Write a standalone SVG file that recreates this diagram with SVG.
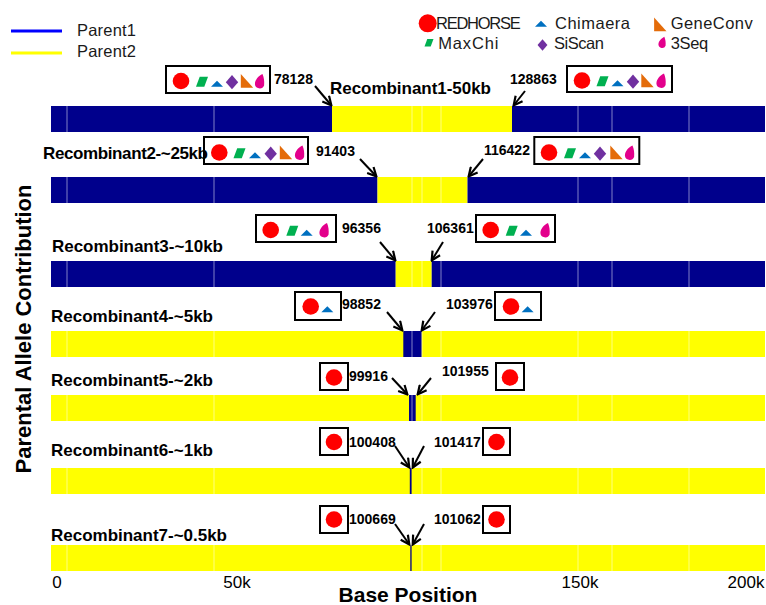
<svg xmlns="http://www.w3.org/2000/svg" width="766" height="605" viewBox="0 0 766 605">
<style>
  .lbl{font-family:"Liberation Sans",Arial,sans-serif;font-weight:bold;font-size:17px;fill:#000}
  .num{font-family:"Liberation Sans",Arial,sans-serif;font-weight:bold;font-size:14px;fill:#000}
  .leg{font-family:"Liberation Sans",Arial,sans-serif;font-size:16.5px;fill:#1a1a1a}
  .tick{font-family:"Liberation Sans",Arial,sans-serif;font-size:17px;fill:#000;text-anchor:middle}
  .axis{font-family:"Liberation Sans",Arial,sans-serif;font-weight:bold;font-size:21px;fill:#000;text-anchor:middle}
  .p1{fill:#00008C}
  .p2{fill:#FFFF00}
  .grid{stroke:#FFFFFF;stroke-opacity:0.5;stroke-width:1;fill:none}
  .box{fill:none;stroke:#000;stroke-width:2}
  .arr{stroke:#000;stroke-width:2;fill:none;marker-end:url(#ah)}
</style>
<defs>
  <marker id="ah" viewBox="0 0 10 10" refX="8.5" refY="5" markerWidth="11" markerHeight="11" markerUnits="userSpaceOnUse" orient="auto">
    <path d="M1,1 L9,5 L1,9" fill="none" stroke="#000" stroke-width="2"/>
  </marker>
  <circle id="sc" r="8.3" fill="#FF0000"/>
  <polygon id="sm" points="-6,5.7 2.3,5.7 6,-4.3 -2.3,-4.3" fill="#00B050"/>
  <polygon id="st" points="-6,5.7 6,5.7 0,-0.3" fill="#0070C0"/>
  <polygon id="sd" points="0,-6 6.2,1.2 0,8.3 -6.2,1.2" fill="#7030A0"/>
  <polygon id="sg" points="-6.2,-7 -6.2,6.7 6.2,6.7" fill="#E46C0A"/>
  <path id="sq" d="M3,-7 C4.5,-3 5,0 4.6,4.5 A4.8,4.8 0 0 1 -4.6,3 C-4.4,-1.5 -1,-5 3,-7 Z" fill="#E3008C"/>
</defs>
<rect width="766" height="605" fill="#FFFFFF"/>

<g id="legend-parents">
  <line x1="11" y1="31" x2="62" y2="31" stroke="#0000FF" stroke-width="3"/>
  <line x1="11" y1="53" x2="62" y2="53" stroke="#FFFF00" stroke-width="3"/>
  <text class="leg" x="77" y="36" textLength="59">Parent1</text>
  <text class="leg" x="77" y="57" textLength="59">Parent2</text>
</g>

<g id="legend-methods">
  <circle cx="427.7" cy="23.3" r="9" fill="#FF0000"/>
  <text class="leg" x="436" y="29.3" textLength="84.7">REDHORSE</text>
  <use href="#st" x="541" y="21"/>
  <text class="leg" x="555" y="29.3" textLength="75">Chimaera</text>
  <use href="#sg" x="660.3" y="24.5"/>
  <text class="leg" x="670.7" y="29.3" textLength="82">GeneConv</text>
  <use href="#sm" transform="translate(429,42.2) scale(0.75)"/>
  <text class="leg" x="438.3" y="49.3" textLength="60">MaxChi</text>
  <use href="#sd" transform="translate(542.5,44) scale(0.8)"/>
  <text class="leg" x="554" y="49.3" textLength="50">SiScan</text>
  <use href="#sq" transform="translate(662,42.2) scale(0.78)"/>
  <text class="leg" x="670.7" y="49.3" textLength="37.6">3Seq</text>
</g>

<g id="recombinant1">
  <rect class="p1" x="51" y="106" width="281" height="26"/>
  <rect class="p2" x="332" y="106" width="180" height="26"/>
  <rect class="p1" x="512" y="106" width="253" height="26"/>
  <path class="grid" d="M67,106V132M214,106V132M412,106V132M422,106V132M441,106V132M578,106V132M612,106V132M689,106V132"/>
  <text class="lbl" x="330" y="94" textLength="161">Recombinant1-50kb</text>
  <rect class="box" x="166" y="66" width="104" height="27"/>
  <use href="#sc" x="181" y="81"/><use href="#sm" x="202" y="81"/><use href="#st" x="217" y="81"/><use href="#sd" x="232" y="81"/><use href="#sg" x="247" y="81"/><use href="#sq" x="259.5" y="81"/>
  <rect class="box" x="567" y="66" width="105" height="26"/>
  <use href="#sc" x="582" y="80.5"/><use href="#sm" x="602.5" y="80.5"/><use href="#st" x="617.5" y="80.5"/><use href="#sd" x="633" y="80.5"/><use href="#sg" x="647.5" y="80.5"/><use href="#sq" x="661" y="80.5"/>
  <text class="num" x="274" y="84">78128</text>
  <text class="num" x="510" y="84">128863</text>
</g>

<g id="recombinant2">
  <rect class="p1" x="51" y="177" width="326.5" height="26"/>
  <rect class="p2" x="377.5" y="177" width="90" height="26"/>
  <rect class="p1" x="467.5" y="177" width="297.5" height="26"/>
  <path class="grid" d="M67,177V203M214,177V203M412,177V203M422,177V203M441,177V203M578,177V203M612,177V203M689,177V203"/>
  <text class="lbl" x="43" y="159" textLength="165">Recombinant2-~25kb</text>
  <rect class="box" x="204" y="137" width="104" height="27"/>
  <use href="#sc" x="219.3" y="152.5"/><use href="#sm" x="239.5" y="152.5"/><use href="#st" x="255" y="152.5"/><use href="#sd" x="270.7" y="152.5"/><use href="#sg" x="286" y="152.5"/><use href="#sq" x="299.5" y="152.5"/>
  <rect class="box" x="534.3" y="137" width="105" height="27"/>
  <use href="#sc" x="549" y="152.5"/><use href="#sm" x="570" y="152.5"/><use href="#st" x="585" y="152.5"/><use href="#sd" x="600" y="152.5"/><use href="#sg" x="616.5" y="152.5"/><use href="#sq" x="629.5" y="152.5"/>
  <text class="num" x="316" y="156">91403</text>
  <text class="num" x="484" y="155">116422</text>
</g>

<g id="recombinant3">
  <rect class="p1" x="51" y="261" width="344.7" height="26"/>
  <rect class="p2" x="395.7" y="261" width="36" height="26"/>
  <rect class="p1" x="431.7" y="261" width="333.3" height="26"/>
  <path class="grid" d="M67,261V287M214,261V287M412,261V287M422,261V287M441,261V287M578,261V287M612,261V287M689,261V287"/>
  <text class="lbl" x="52" y="252" textLength="171">Recombinant3-~10kb</text>
  <rect class="box" x="256" y="215" width="80" height="27"/>
  <use href="#sc" x="270.7" y="230"/><use href="#sm" x="292.3" y="230"/><use href="#st" x="306.7" y="230"/><use href="#sq" x="324" y="230"/>
  <rect class="box" x="476" y="215" width="79" height="27"/>
  <use href="#sc" x="490.7" y="230"/><use href="#sm" x="511.7" y="230"/><use href="#st" x="526" y="230"/><use href="#sq" x="545" y="230"/>
  <text class="num" x="342" y="233">96356</text>
  <text class="num" x="427" y="233">106361</text>
</g>

<g id="recombinant4">
  <rect class="p2" x="51" y="331" width="714" height="26"/>
  <rect class="p1" x="403.3" y="331" width="18.4" height="26"/>
  <path class="grid" d="M67,331V357M214,331V357M412,331V357M422,331V357M441,331V357M578,331V357M612,331V357M689,331V357"/>
  <text class="lbl" x="51" y="322" textLength="162">Recombinant4-~5kb</text>
  <rect class="box" x="295" y="292" width="46" height="28"/>
  <use href="#sc" x="310.7" y="306.5"/><use href="#st" x="327.3" y="306.5"/>
  <rect class="box" x="495" y="292" width="46" height="28"/>
  <use href="#sc" x="511" y="306.5"/><use href="#st" x="527.6" y="306.5"/>
  <text class="num" x="342" y="309">98852</text>
  <text class="num" x="446" y="309">103976</text>
</g>

<g id="recombinant5">
  <rect class="p2" x="51" y="395" width="714" height="26"/>
  <rect class="p1" x="409" y="395" width="6.7" height="26"/>
  <path class="grid" d="M67,395V421M214,395V421M412,395V421M422,395V421M441,395V421M578,395V421M612,395V421M689,395V421"/>
  <text class="lbl" x="51" y="386" textLength="162">Recombinant5-~2kb</text>
  <rect class="box" x="320" y="363" width="28" height="27"/>
  <use href="#sc" x="334" y="377.5"/>
  <rect class="box" x="496" y="363" width="28" height="27"/>
  <use href="#sc" x="510" y="377.5"/>
  <text class="num" x="349" y="381">99916</text>
  <text class="num" x="442" y="376">101955</text>
</g>

<g id="recombinant6">
  <rect class="p2" x="51" y="468" width="714" height="26"/>
  <path class="grid" d="M67,468V494M214,468V494M422,468V494M441,468V494M578,468V494M612,468V494M689,468V494"/>
  <rect class="p1" x="409.8" y="468" width="1.8" height="26"/>
  <text class="lbl" x="51" y="456" textLength="162">Recombinant6-~1kb</text>
  <rect class="box" x="320" y="428" width="28" height="27"/>
  <use href="#sc" x="334" y="442"/>
  <rect class="box" x="483" y="428" width="27" height="27"/>
  <use href="#sc" x="496.5" y="442"/>
  <text class="num" x="349" y="447">100408</text>
  <text class="num" x="434" y="447">101417</text>
</g>

<g id="recombinant7">
  <rect class="p2" x="51" y="545" width="714" height="26"/>
  <path class="grid" d="M67,545V571M214,545V571M422,545V571M441,545V571M578,545V571M612,545V571M689,545V571"/>
  <rect class="p1" x="410.3" y="545" width="1.3" height="26"/>
  <text class="lbl" x="51" y="541" textLength="176">Recombinant7-~0.5kb</text>
  <rect class="box" x="320" y="506" width="28" height="27"/>
  <use href="#sc" x="334" y="519.5"/>
  <rect class="box" x="483" y="506" width="27" height="27"/>
  <use href="#sc" x="496.5" y="519.5"/>
  <text class="num" x="349" y="524">100669</text>
  <text class="num" x="434" y="524">101062</text>
</g>

<g id="connectors">
  <line class="arr" x1="315" y1="86" x2="331" y2="105"/>
  <line class="arr" x1="525" y1="91" x2="514" y2="105"/>
  <line class="arr" x1="360" y1="159" x2="376" y2="176"/>
  <line class="arr" x1="483" y1="159" x2="469" y2="176"/>
  <line class="arr" x1="380" y1="242" x2="395" y2="260"/>
  <line class="arr" x1="443" y1="242" x2="432" y2="260"/>
  <line class="arr" x1="387" y1="312" x2="402" y2="330"/>
  <line class="arr" x1="435" y1="312" x2="422" y2="330"/>
  <line class="arr" x1="392" y1="378" x2="407" y2="394"/>
  <line class="arr" x1="431" y1="378" x2="418" y2="394"/>
  <line class="arr" x1="395" y1="446" x2="409" y2="467"/>
  <line class="arr" x1="424" y1="446" x2="413" y2="467"/>
  <line class="arr" x1="395" y1="524" x2="409" y2="544"/>
  <line class="arr" x1="424" y1="524" x2="413" y2="544"/>
</g>

<g id="axes">
  <text class="tick" x="57" y="588">0</text>
  <text class="tick" x="237" y="588">50k</text>
  <text class="tick" x="580" y="588">150k</text>
  <text class="tick" x="746" y="588">200k</text>
  <text class="axis" x="408" y="602">Base Position</text>
  <text class="axis" transform="translate(31,329) rotate(-90)" style="font-size:22px">Parental Allele Contribution</text>
</g>
</svg>
